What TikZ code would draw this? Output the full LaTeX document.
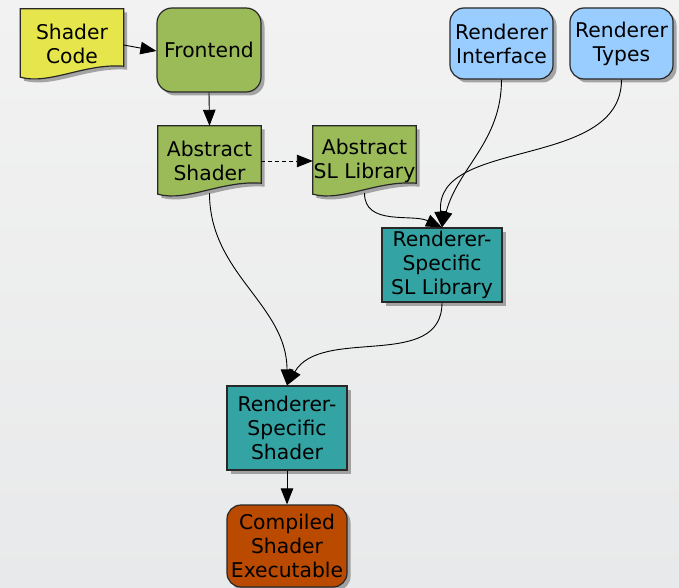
\documentclass[tikz,border=0pt]{standalone}
\usepackage{fontspec}
\setmainfont{DejaVu Sans}
\usetikzlibrary{arrows.meta,shadows}

\definecolor{codeyellow}{RGB}{230,230,76}
\definecolor{stagegreen}{RGB}{155,187,89}
\definecolor{apiblue}{RGB}{153,204,255}
\definecolor{specteal}{RGB}{51,163,163}
\definecolor{binorange}{RGB}{185,74,0}
\definecolor{outline}{RGB}{40,40,40}
\definecolor{paperhi}{RGB}{242,242,242}
\definecolor{paperlo}{RGB}{232,233,234}

\pgfdeclarelayer{paper}
\pgfdeclarelayer{docs}
\pgfsetlayers{paper,docs,main}

\tikzset{
  label font/.style={font=\fontsize{20.3}{24}\selectfont},
  box/.style={draw=outline, line width=1.2pt, inner sep=0pt, align=center,
    label font,
    drop shadow={shadow xshift=3.5pt, shadow yshift=-3.5pt, fill=black!60, opacity=.55}},
  roundbox/.style={box, rounded corners=14pt},
  docbox/.style={inner sep=0pt, align=center, label font,
    minimum width=103pt, minimum height=64pt},
  docline/.style={draw=outline, line width=1.2pt},
  docshadow/.style={fill=black!60, opacity=.55,
    transform canvas={shift={(3.5pt,-3.5pt)}}},
  flow/.style={draw=black, line width=0.9pt,
    -{Triangle[length=16pt,width=12.5pt]}},
}

% document symbol (wavy bottom) drawn around a docbox node;
% the text sits 3pt below the middle of the sheet
\newcommand\docpath[1]{%
  ([yshift=3pt]#1.north west) -- ([yshift=3pt]#1.north east) -- ([yshift=10pt]#1.south east)
  .. controls ([xshift=64pt,yshift=13pt]#1.south west) and ([xshift=29pt,yshift=-9pt]#1.south west)
  .. ([yshift=-1pt]#1.south west) -- cycle}
\newcommand\docshape[2]{%
  \begin{pgfonlayer}{docs}
    \fill[docshadow] \docpath{#1};
    \filldraw[docline, fill=#2] \docpath{#1};
  \end{pgfonlayer}}

\begin{document}
\begin{tikzpicture}[x=1pt,y=1pt]
  \begin{pgfonlayer}{paper}
    \shade[top color=paperhi, bottom color=paperlo] (0,0) rectangle (679,-588);
  \end{pgfonlayer}
  \useasboundingbox (0,0) rectangle (679,-588);

  % sources and front end
  \node[docbox] (sc) at (72,-44) {Shader\\Code};
  \docshape{sc}{codeyellow}
  \node[roundbox, fill=stagegreen, minimum width=104pt, minimum height=84pt, rounded corners=15pt]
    (fe) at (209,-50) {Frontend};

  % abstract stage
  \node[docbox] (as) at (209.5,-161) {Abstract\\Shader};
  \docshape{as}{stagegreen}
  \node[docbox] (asl) at (364.5,-161) {Abstract\\SL Library};
  \docshape{asl}{stagegreen}

  % renderer inputs
  \node[roundbox, fill=apiblue, minimum width=103pt, minimum height=71pt]
    (ri) at (501.5,-43.5) {Renderer\\Interface};
  \node[roundbox, fill=apiblue, minimum width=103pt, minimum height=71pt]
    (rt) at (621.5,-43.5) {Renderer\\Types};

  % renderer-specific stage
  \node[box, fill=specteal, minimum width=120pt, minimum height=74pt]
    (rssl) at (442,-265) {Renderer-\\Specific\\SL Library};
  \node[box, fill=specteal, minimum width=120pt, minimum height=84pt]
    (rss) at (287,-428) {Renderer-\\Specific\\Shader};
  \node[roundbox, fill=binorange, minimum width=120pt, minimum height=82pt]
    (exe) at (287,-546) {Compiled\\Shader\\Executable};

  % connectors
  \draw[flow] ([yshift=-1pt]sc.east) -- ([yshift=-1pt]fe.west);
  \draw[flow] (fe.south) -- ([yshift=3pt]as.north);
  \draw[flow, dash pattern=on 4pt off 3pt] (as.east) -- (asl.west);
  \draw[flow] (asl.south) to[out=-90, in=155] (rssl.north);
  \draw[flow] (ri.south) to[out=-90, in=75] (rssl.north);
  \draw[flow] (rt.south) to[out=-90, in=95] (rssl.north);
  \draw[flow] (as.south) to[out=-90, in=90] (rss.north);
  \draw[flow] (rssl.south) to[out=-90, in=60] (rss.north);
  \draw[flow] (rss.south) -- (exe.north);
\end{tikzpicture}
\end{document}
